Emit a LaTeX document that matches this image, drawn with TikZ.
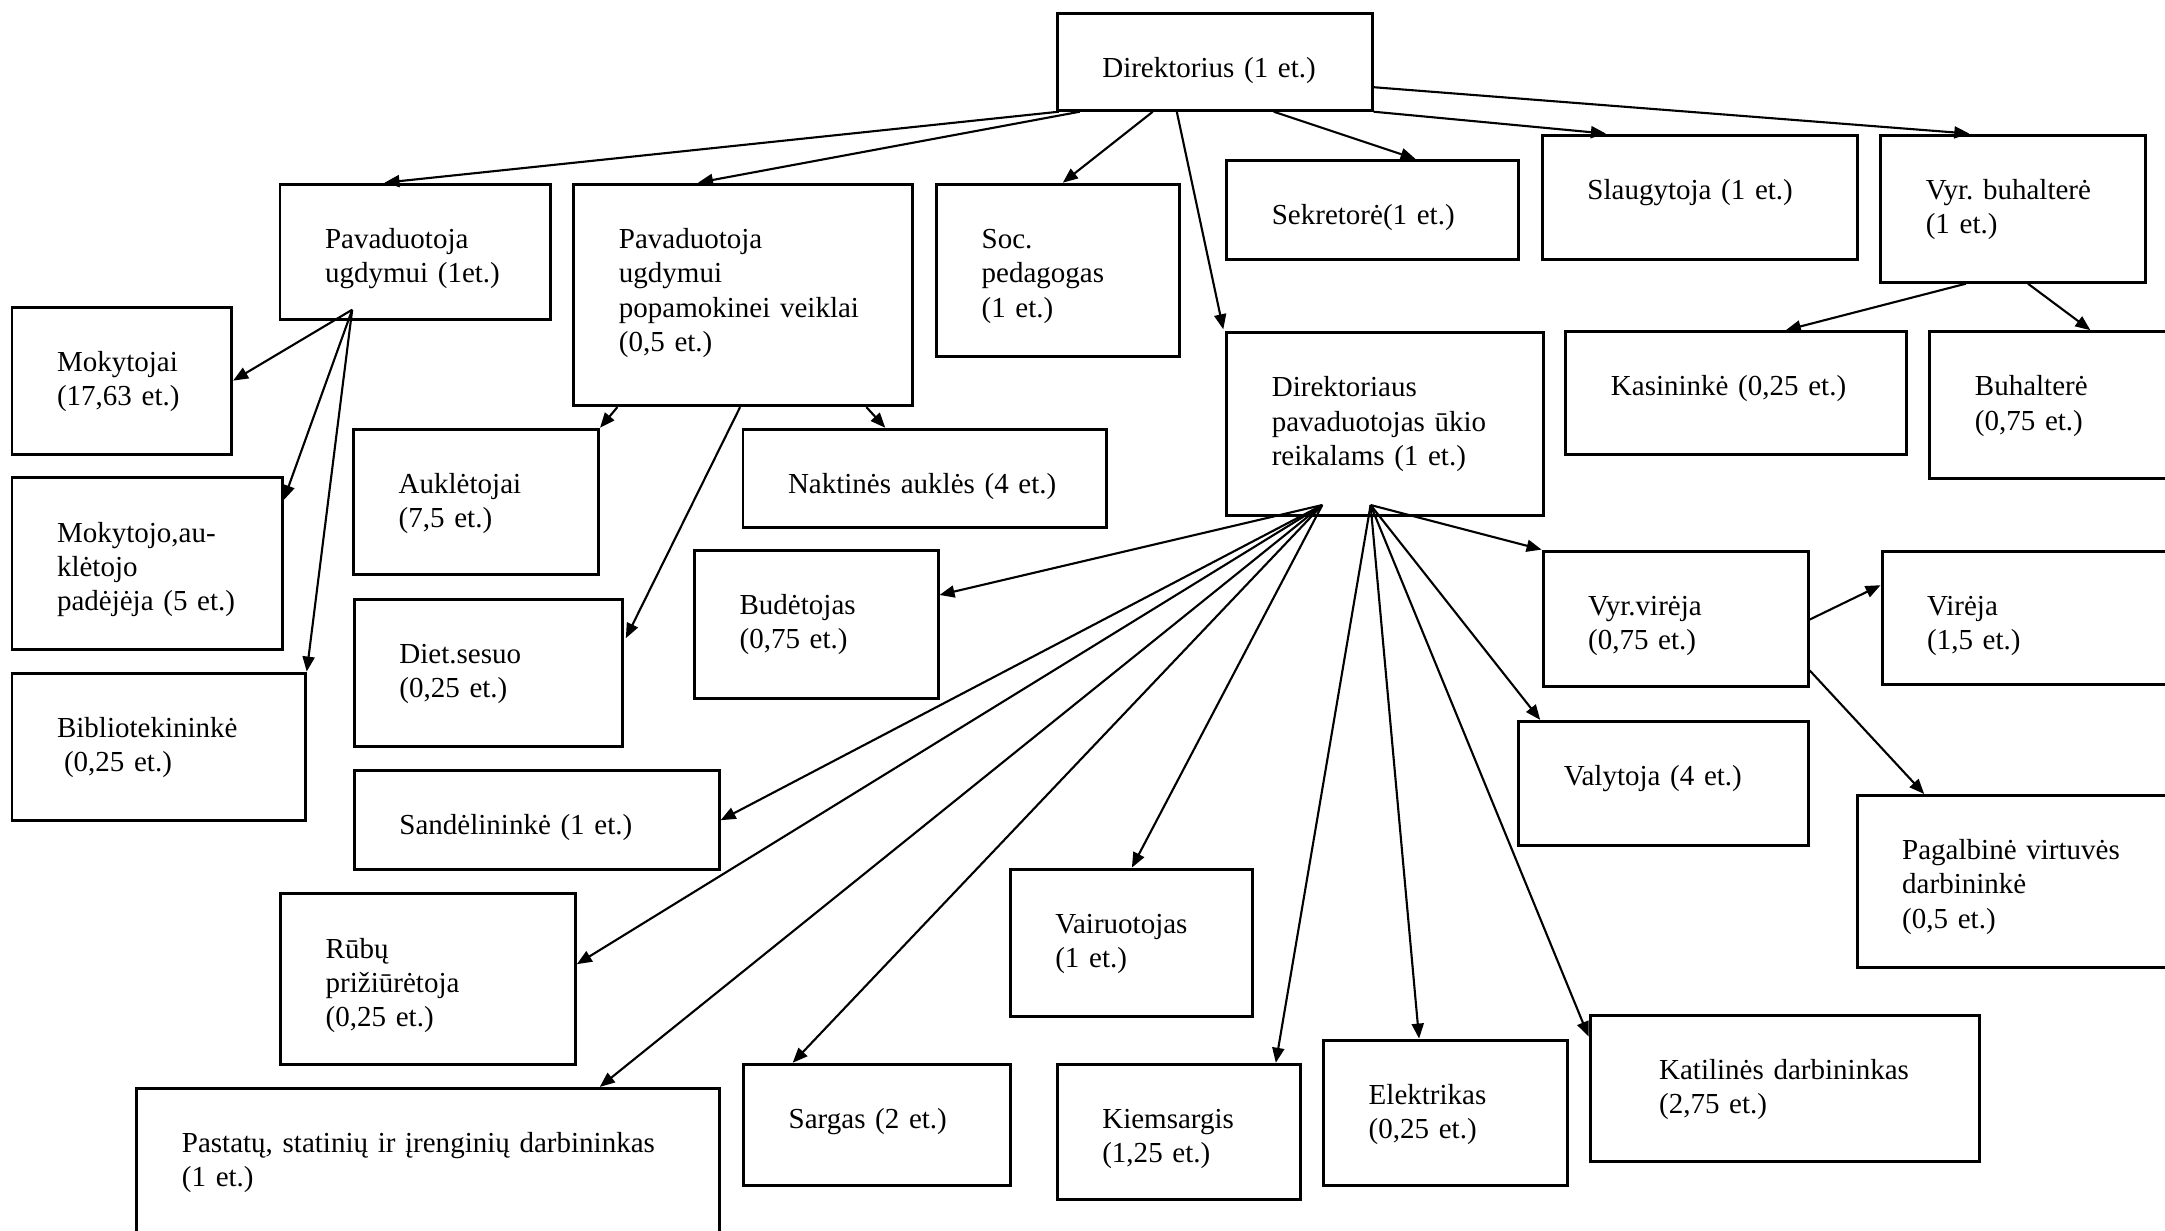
\documentclass[tikz,border=0pt]{standalone}
\usepackage{fontspec}
\setmainfont{Liberation Serif}
\usepackage{tikz}
\usetikzlibrary{arrows.meta}
\usetikzlibrary{calc}
\usetikzlibrary{positioning}
\hyphenpenalty=10000

\tikzset{
  box/.style 2 args={draw, line width=0.85pt, anchor=north west, align=left,
    inner xsep=0.45cm, inner ysep=0pt,
    text width={(#1-90)*0.01cm}, text height=0.64cm, text depth={(#2-64)*0.01cm},
    font=\fontsize{8.25pt}{9.8pt}\selectfont},
  arr/.style={-{Triangle[length=0.15cm,width=0.12cm]}, line width=0.6pt}
}

\begin{document}
\begin{tikzpicture}[x=0.01cm, y=-0.01cm]

    \useasboundingbox (0,0) rectangle (2165,1231);

    % top row
    \node [box={314.8}{96.8}] (dir) at (1055.8,11.9) {Direktorius (1 et.)};
    \node [box={270.5}{135}] (pu) at (278.5,182.7) {Pavaduotoja\\ ugdymui (1et.)};
    \node [box={338.8}{221.4}] (pp) at (572.4,182.7)
    {Pavaduotoja\\ ugdymui\\ popamokinei~veiklai\\ (0,5 et.)};
    \node [box={242.6}{172.4}] (soc) at (935.1,182.7) {Soc.\\ pedagogas\\ (1 et.)};
    \node [box={292}{98.8}] (sek) at (1225.3,159) {Sekretorė(1 et.)};
    \node [box={314.8}{124.2}] (slau) at (1540.9,133.6) {Slaugytoja (1 et.)};
    \node [box={265}{147.1}] (vbuh) at (1879.3,133.6) {Vyr.~buhalterė\\ (1 et.)};

    % left column
    \node [box={219.6}{147.1}] (mok) at (10.5,305.6) {Mokytojai\\ (17,63 et.)};
    \node [box={270.1}{171}] (mpad) at (10.5,476.5)
    {Mokytojo,au-\\ klėtojo\\ padėjėja~(5~et.)};
    \node [box={293.2}{147.7}] (bib) at (10.5,671.6)
    {Bibliotekininkė\\ \hspace*{0.07cm}(0,25 et.)};

    % middle
    \node [box={244.8}{145.5}] (aukl) at (352.2,427.8) {Auklėtojai\\ (7,5 et.)};
    \node [box={363.1}{98.1}] (nakt) at (741.5,427.8) {Naktinės~auklės~(4~et.)};
    \node [box={267.9}{147.1}] (diet) at (352.9,597.8) {Diet.sesuo\\ (0,25 et.)};
    \node [box={243.4}{147.8}] (bud) at (693.1,548.8) {Budėtojas\\ (0,75 et.)};
    \node [box={316.3}{182.7}] (uk) at (1225.3,331.3)
    {Direktoriaus\\ pavaduotojas ūkio\\ reikalams (1 et.)};
    \node [box={340.5}{122.5}] (kas) at (1564.4,330.2) {Kasininkė (0,25 et.)};
    \node [box={260}{146.3}] (buh) at (1928.4,330.2) {Buhalterė\\ (0,75 et.)};
    \node [box={364.7}{99.4}] (sand) at (352.9,769) {Sandėlininkė (1 et.)};
    \node [box={265}{134.9}] (vvir) at (1541.6,549.6) {Vyr.virėja\\ (0,75 et.)};
    \node [box={300}{133.7}] (vir) at (1880.6,549.6) {Virėja\\ (1,5 et.)};
    \node [box={289.3}{123.6}] (valy) at (1517.3,719.9) {Valytoja (4 et.)};
    \node [box={320}{172.2}] (pagv) at (1855.7,794)
    {Pagalbinė virtuvės\\ darbininkė\\ (0,5 et.)};

    % bottom
    \node [box={294.6}{170.3}] (rub) at (279.2,892.5) {Rūbų\\ prižiūrėtoja\\ (0,25 et.)};
    \node [box={242.1}{146.9}] (vair) at (1008.8,867.6) {Vairuotojas\\ (1 et.)};
    \node [box={582.2}{160}] (past) at (135.4,1086.9)
    {Pastatų, statinių ir įrenginių darbininkas\\ (1 et.)};
    \node [box={266.6}{120.7}] (sarg) at (742.2,1062.8) {Sargas (2 et.)};
    \node [box={242.9}{134.8}] (kiem) at (1055.8,1062.8) {Kiemsargis\\ (1,25 et.)};
    \node [box={243.6}{145.7}] (elek) at (1322.2,1038.6) {Elektrikas\\ (0,25 et.)};
    \node [box={340.9}{146.4}, inner xsep=0.69cm] (kat) at (1588.6,1013.7)
    {Katilinės~darbininkas\\ (2,75 et.)};

    \coordinate (puo) at ($(pu.south west)+(73.7,-11)$);
    \coordinate (uko1) at ($(uk.south west)+(97,-12)$);
    \coordinate (uko2) at ($(uk.south west)+(145.3,-12)$);

    % from the director
    \draw [arr] ($(dir.south west)+(3,0)$) -- ($(pu.north west)+(106,0)$);
    \draw [arr] ($(dir.south west)+(24,0)$) -- ($(pp.north west)+(125.6,0)$);
    \draw [arr] ($(dir.south west)+(97,0)$) -- ($(soc.north west)+(127.7,0)$);
    \draw [arr] ($(dir.south west)+(121,0)$) -- ($(uk.north west)+(-2,-2)$);
    \draw [arr] ($(dir.south west)+(218,0)$) -- ($(sek.north west)+(190.3,0)$);
    \draw [arr] (dir.south east) -- ($(slau.north west)+(65,0)$);
    \draw [arr] ($(dir.south east)+(0,-24.5)$) -- ($(vbuh.north west)+(90,0)$);

    \draw [arr] ($(vbuh.south west)+(86.5,0)$) -- ($(kas.north west)+(221.4,0)$);
    \draw [arr] ($(vbuh.south west)+(148.7,0)$) -- ($(buh.north west)+(162,0)$);

    \draw [arr] (puo) -- (mok.east);
    \draw [arr] (puo) -- ($(mpad.north east)+(0,23.7)$);
    \draw [arr] (puo) -- (bib.north east);

    \draw [arr] ($(pp.south west)+(45,0)$) -- (aukl.north east);
    \draw [arr] ($(pp.south west)+(294,0)$) -- ($(nakt.north west)+(143.8,0)$);
    \draw [arr] ($(pp.south west)+(167.7,0)$) -- ($(diet.north east)+(2,40.4)$);

    % fan under uk
    \draw [arr] (uko1) -- ($(bud.north east)+(0,46.2)$);
    \draw [arr] (uko1) -- (sand.east);
    \draw [arr] (uko1) -- ($(rub.north east)+(0,71.7)$);
    \draw [arr] (uko1) -- ($(past.north west)+(464.4,0)$);
    \draw [arr] (uko1) -- ($(sarg.north west)+(50.5,0)$);
    \draw [arr] (uko1) -- ($(vair.north west)+(123.1,0)$);
    \draw [arr] (uko2) -- ($(kiem.north west)+(220,0)$);
    \draw [arr] (uko2) -- ($(elek.north west)+(96.9,0)$);
    \draw [arr] (uko2) -- ($(kat.north west)+(0,22.9)$);
    \draw [arr] (uko2) -- ($(valy.north west)+(22.9,0)$);
    \draw [arr] (uko2) -- (vvir.north west);

    \draw [arr] ($(vvir.north east)+(0,70)$) -- ($(vir.north west)+(0,35.6)$);
    \draw [arr] ($(vvir.north east)+(0,120.8)$) -- ($(pagv.north west)+(68.5,0)$);

  \end{tikzpicture}
\end{document}
